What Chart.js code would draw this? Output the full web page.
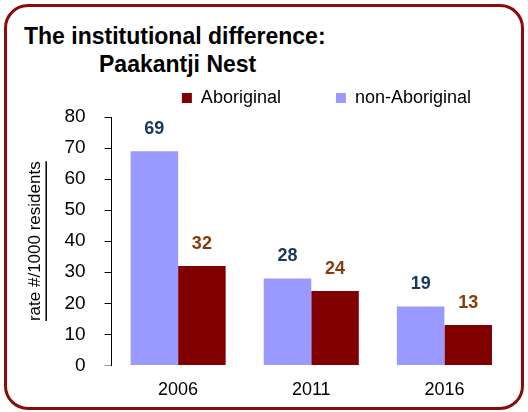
<!DOCTYPE html>
<html>
<head>
<meta charset="utf-8">
<script src="https://cdn.jsdelivr.net/npm/chart.js@4.4.0/dist/chart.umd.min.js"></script>
<style>
  body { margin: 0; background: #fff; font-family: "Liberation Sans", Arial, sans-serif; }
  #wrap { position: relative; width: 528px; height: 412px; overflow: hidden; }
  #frame { position: absolute; left: 4px; top: 4px; width: 514px; height: 400px;
           border: 3px solid #8b0a0a; border-radius: 24px; }
  .ttl { position: absolute; font-weight: bold; font-size: 23px; color: #000; white-space: nowrap; }
  canvas { position: absolute; left: 0; top: 0; }
</style>
</head>
<body>
<div id="wrap">
  <div id="frame"></div>
  <div class="ttl" style="left:24px; top:23px;">The institutional difference:</div>
  <div class="ttl" style="left:99px; top:51px;">Paakantji Nest</div>
  <canvas id="myChart" width="528" height="412"></canvas>
</div>
<script>
// data
var years = ['2006', '2011', '2016'];
var nonAboriginal = [69, 28, 19];
var aboriginal = [32, 24, 13];
var yTicks = [0, 10, 20, 30, 40, 50, 60, 70, 80];

// draws the value above each bar
var valueLabels = {
    id: 'valueLabels',
    afterDatasetsDraw: function (chart) {
        var ctx = chart.ctx;
        ctx.save();
        ctx.font = 'bold 18px "Liberation Sans", Arial, sans-serif';
        ctx.textAlign = 'center';
        ctx.textBaseline = 'middle';
        chart.data.datasets.forEach(function (ds, i) {
            chart.getDatasetMeta(i).data.forEach(function (bar, j) {
                ctx.fillStyle = ds.labelColor;
                ctx.fillText(ds.data[j], bar.x, bar.y - 22);
            });
        });
        ctx.restore();
    }
};

// underline under the y axis title
var titleUnderline = {
    id: 'titleUnderline',
    afterDraw: function (chart) {
        var y = chart.scales.y;
        var ctx = chart.ctx;
        ctx.save();
        ctx.font = '17px "Liberation Sans", Arial, sans-serif';
        var w = ctx.measureText(y.options.title.text).width;
        var mid = (y.top + y.bottom) / 2;
        var x = y.left + 4 + 20.4 / 2 + 11;
        ctx.strokeStyle = '#000';
        ctx.lineWidth = 1.5;
        ctx.beginPath();
        ctx.moveTo(x, mid - w / 2);
        ctx.lineTo(x, mid + w / 2);
        ctx.stroke();
        ctx.restore();
    }
};

var ctx = document.getElementById('myChart').getContext('2d');
var chart = new Chart(ctx, {
    type: 'bar',
    data: {
        labels: years,
        datasets: [{
            label: 'non-Aboriginal',
            backgroundColor: '#9999ff',
            labelColor: '#17375e',
            data: nonAboriginal
        }, {
            label: 'Aboriginal',
            backgroundColor: '#800000',
            labelColor: '#8b3a0e',
            data: aboriginal
        }]
    },
    options: {
        responsive: false,
        animation: false,
        categoryPercentage: 0.714,
        barPercentage: 1,
        layout: { padding: { top: 49, left: 21, right: 17, bottom: 5 } },
        plugins: {
            tooltip: { enabled: false },
            legend: {
                position: 'top',
                fullSize: false,
                align: 'end',
                reverse: true,
                labels: {
                    boxWidth: 10,
                    boxHeight: 10,
                    padding: 40,
                    color: '#000',
                    font: { size: 18, family: '"Liberation Sans", Arial, sans-serif' },
                    generateLabels: function (chart) {
                        var items = Chart.defaults.plugins.legend.labels.generateLabels(chart);
                        items.forEach(function (it) {
                            it.lineWidth = 0;
                            if (it.text === 'Aboriginal') it.text = 'Aboriginal   ';
                        });
                        return items;
                    }
                }
            }
        },
        scales: {
            x: {
                grid: { display: false },
                border: { display: false },
                ticks: {
                    color: '#000',
                    padding: 6,
                    font: { size: 18, family: '"Liberation Sans", Arial, sans-serif' }
                }
            },
            y: {
                min: 0,
                max: 80,
                afterBuildTicks: function (scale) {
                    scale.ticks = yTicks.map(function (v) { return { value: v }; });
                },
                grid: {
                    drawOnChartArea: false,
                    tickLength: 7,
                    color: function (c) { return c.tick && c.tick.value === 0 ? '#999' : '#000'; }
                },
                border: { display: true, color: '#000', width: 1 },
                ticks: {
                    color: '#000',
                    padding: 19,
                    font: { size: 19, family: '"Liberation Sans", Arial, sans-serif' }
                },
                title: {
                    display: true,
                    text: 'rate #/1000 residents',
                    color: '#000',
                    padding: { top: 4, bottom: 0 },
                    font: { size: 17, family: '"Liberation Sans", Arial, sans-serif' }
                }
            }
        }
    },
    plugins: [valueLabels, titleUnderline]
});
</script>
</body>
</html>
